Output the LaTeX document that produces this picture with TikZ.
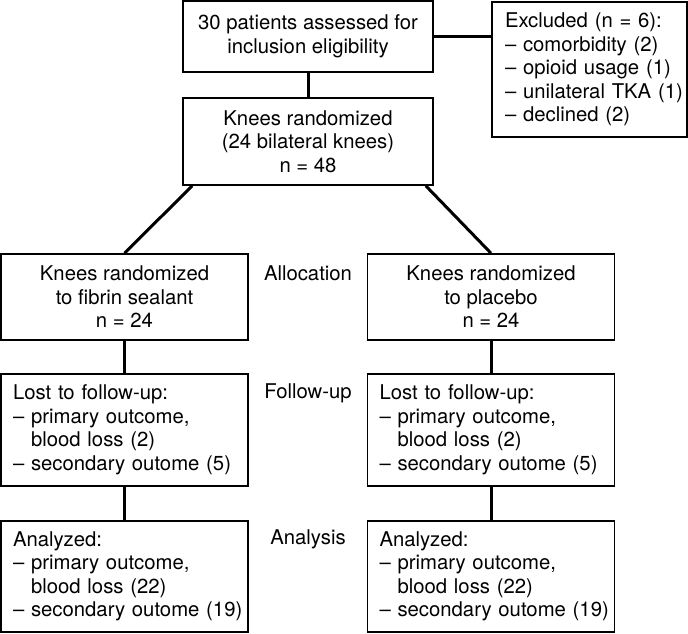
\documentclass[tikz,border=0pt]{standalone}
\usepackage{fontspec}
\setmainfont{TeX Gyre Heros}
\usetikzlibrary{calc}
\newcommand\nb[1]{\mbox{#1}}
\begin{document}
\begin{tikzpicture}[x=1pt,y=-1pt,
  txt/.style={font=\fontsize{20.3}{23.5}\selectfont},
  cbox/.style={txt, draw, line width=1.6pt, inner sep=0pt, align=center},
  lbox/.style={txt, draw, line width=1.6pt, inner xsep=12pt, inner ysep=0pt, text width=223pt, align=left},
  conn/.style={line width=3pt},
  lab/.style={txt, anchor=base, inner sep=0pt}]
\useasboundingbox (0,0) rectangle (688,633);
\node[cbox, minimum width=250pt, minimum height=71pt] (top) at (308,36.5) {30 patients assessed for\\inclusion eligibility};
\node[txt, draw, line width=1.6pt, inner xsep=13pt, inner ysep=0pt, text width=169pt, align=left, minimum height=135pt] (excl) at (589.5,69.5)
  {\nb{Excluded (n = 6):}\\\nb{– comorbidity (2)}\\\nb{– opioid usage (1)}\\\nb{– unilateral TKA (1)}\\\nb{– declined (2)}};
\node[cbox, minimum width=250pt, minimum height=87pt] (rand) at (308,141.5) {Knees randomized\\(24 bilateral knees)\\n = 48};
\node[cbox, minimum width=247pt, minimum height=86pt] (fs) at (124.5,297) {Knees randomized\\to fibrin sealant\\n = 24};
\node[cbox, minimum width=247pt, minimum height=86pt] (pl) at (491,297) {Knees randomized\\to placebo\\n = 24};
\node[lbox, minimum height=112pt] (lostL) at (124.5,430) {\nb{Lost to follow-up:}\\\nb{– primary outcome,}\\\nb{\hphantom{– }blood loss (2)}\\\nb{– secondary outome (5)}};
\node[lbox, minimum height=112pt] (lostR) at (491,430) {\nb{Lost to follow-up:}\\\nb{– primary outcome,}\\\nb{\hphantom{– }blood loss (2)}\\\nb{– secondary outome (5)}};
\node[lbox, minimum height=111pt] (anL) at (124.5,576.5) {\nb{Analyzed:}\\\nb{– primary outcome,}\\\nb{\hphantom{– }blood loss (22)}\\\nb{– secondary outome (19)}};
\node[lbox, minimum height=111pt] (anR) at (491,576.5) {\nb{Analyzed:}\\\nb{– primary outcome,}\\\nb{\hphantom{– }blood loss (22)}\\\nb{– secondary outome (19)}};
\node[lab] (alloc) at (308,280) {Allocation};
\node[lab] (fu) at (308,398) {Follow-up};
\node[lab] (ana) at (308,544) {Analysis};
\draw[conn] (top.south) -- (rand.north);
\draw[conn] (top.east) -- (top.east -| excl.west);
\draw[conn] ($(rand.south west)+(10,0)$) -- (fs.north);
\draw[conn] ($(rand.south east)+(-8,0)$) -- (pl.north);
\draw[conn] (fs.south) -- (lostL.north);
\draw[conn] (lostL.south) -- (anL.north);
\draw[conn] (pl.south) -- (lostR.north);
\draw[conn] (lostR.south) -- (anR.north);
\end{tikzpicture}
\end{document}
